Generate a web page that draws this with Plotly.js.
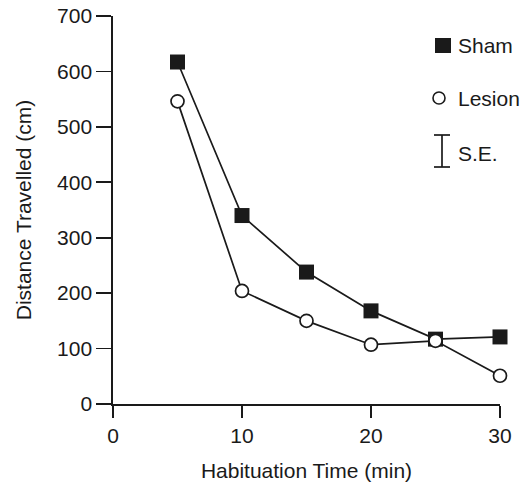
<!DOCTYPE html>
<html>
<head>
<meta charset="utf-8">
<script src="https://cdn.plot.ly/plotly-3.0.1.min.js"></script>
<style>html,body{margin:0;padding:0;background:#fff;}#chart{width:530px;height:482px;}</style>
</head>
<body>
<div id="chart"></div>
<script>
const time = [5, 10, 15, 20, 25, 30];
const sham = [617, 340, 238, 168, 117, 121];
const lesion = [546, 204, 150, 107, 114, 51];
const xTicks = [0, 10, 20, 30];
const yTicks = [0, 100, 200, 300, 400, 500, 600, 700];
const legendLabels = ['Sham', 'Lesion', 'S.E.'];

const FONT = 'Liberation Sans, Arial, Helvetica, sans-serif';
const INK = '#1a1a1a';
const FS = 21;

const traces = [
  {
    x: time, y: sham, name: 'Sham', type: 'scatter', mode: 'lines+markers', cliponaxis: false,
    line: {color: INK, width: 1.7},
    marker: {symbol: 'square', size: 15, color: INK, line: {width: 0}}
  },
  {
    x: time, y: lesion, name: 'Lesion', type: 'scatter', mode: 'lines+markers', cliponaxis: false,
    line: {color: INK, width: 1.7},
    marker: {symbol: 'circle', size: 13, color: '#fff', line: {color: INK, width: 1.7}}
  }
];

// paper coordinate helpers (plot area: x 113..500, y 16..404)
const px = v => (v - 113) / 387;
const py = v => (404 - v) / 388;

const layout = {
  width: 530, height: 482,
  margin: {l: 113, r: 30, t: 16, b: 78},
  paper_bgcolor: '#fff', plot_bgcolor: '#fff',
  font: {family: FONT, size: FS, color: INK},
  showlegend: false,
  xaxis: {
    range: [0, 30], tickvals: xTicks, ticktext: xTicks.map(String),
    showline: true, linecolor: INK, linewidth: 1.7, ticks: 'outside', ticklen: 12, tickwidth: 1.7, tickcolor: INK,
    showgrid: false, zeroline: false, fixedrange: true,
    title: {text: 'Habituation Time (min)', font: {family: FONT, size: FS, color: INK}, standoff: 18}
  },
  yaxis: {
    range: [0, 700], tickvals: yTicks, ticktext: yTicks.map(String),
    showline: true, linecolor: INK, linewidth: 1.7, ticks: 'outside', ticklen: 15, tickwidth: 1.7, tickcolor: INK,
    showgrid: false, zeroline: false, fixedrange: true,
    title: {text: 'Distance Travelled (cm)', font: {family: FONT, size: FS, color: INK}, standoff: 20}
  },
  shapes: [
    {type: 'rect', xref: 'paper', yref: 'paper', x0: px(435), x1: px(451), y0: py(53), y1: py(38), fillcolor: INK, line: {width: 0}},
    {type: 'circle', xref: 'paper', yref: 'paper', x0: px(433), x1: px(445), y0: py(104), y1: py(92), fillcolor: '#fff', line: {color: INK, width: 1.6}},
    {type: 'line', xref: 'paper', yref: 'paper', x0: px(442), x1: px(442), y0: py(167), y1: py(135), line: {color: INK, width: 1.7}},
    {type: 'line', xref: 'paper', yref: 'paper', x0: px(434), x1: px(450), y0: py(135), y1: py(135), line: {color: INK, width: 1.7}},
    {type: 'line', xref: 'paper', yref: 'paper', x0: px(434), x1: px(450), y0: py(167), y1: py(167), line: {color: INK, width: 1.7}}
  ],
  annotations: legendLabels.map((t, i) => ({
    text: t, xref: 'paper', yref: 'paper', x: px(456), y: py([46, 98, 153][i]),
    xanchor: 'left', yanchor: 'middle', showarrow: false,
    font: {family: FONT, size: FS, color: INK}
  }))
};

Plotly.newPlot('chart', traces, layout, {displayModeBar: false, staticPlot: true});
</script>
</body>
</html>
